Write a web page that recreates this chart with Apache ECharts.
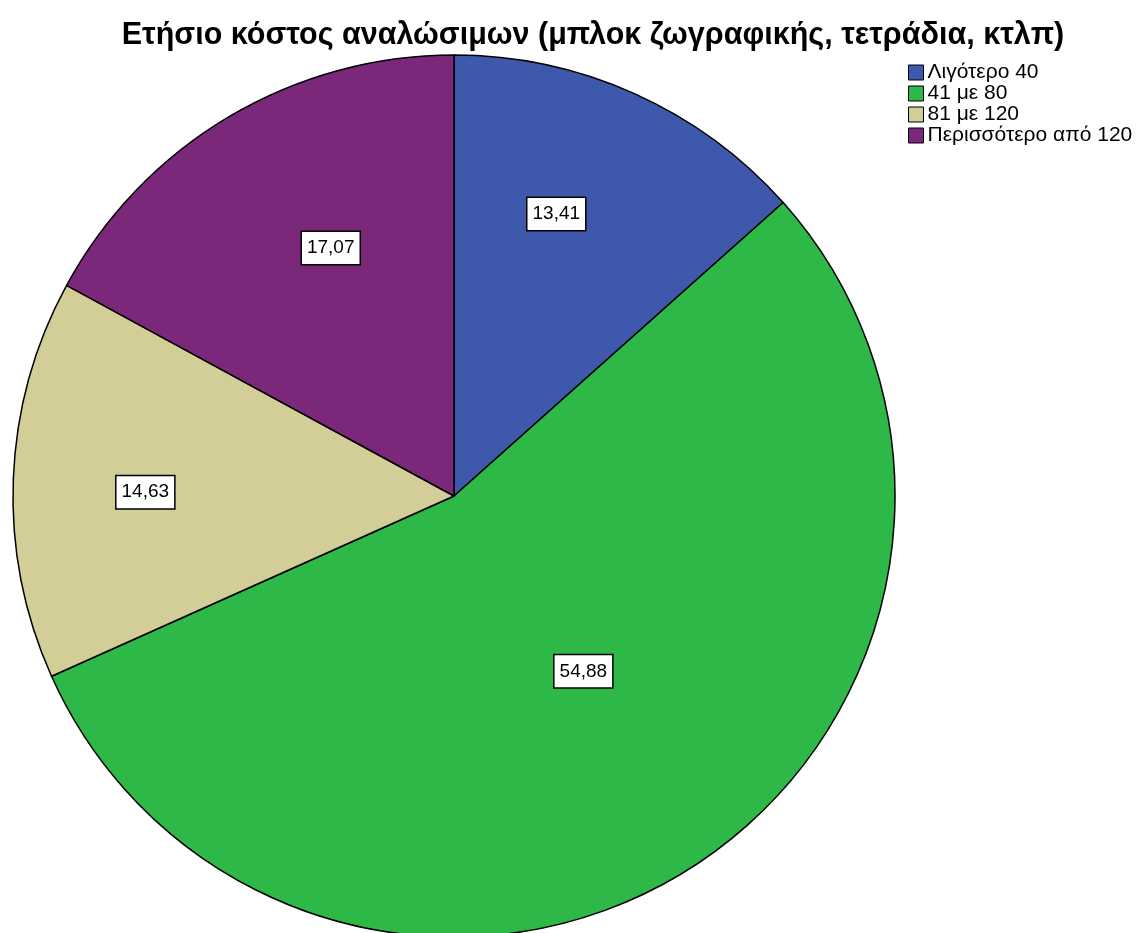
<!DOCTYPE html>
<html>
<head>
<meta charset="utf-8">
<script src="https://cdn.jsdelivr.net/npm/echarts@6/dist/echarts.min.js"></script>
<style>html,body{margin:0;padding:0;background:#fff;}#chart{width:1136px;height:933px;}</style>
</head>
<body>
<div id="chart"></div>
<script>
const titleText = 'Ετήσιο κόστος αναλώσιμων (μπλοκ ζωγραφικής, τετράδια, κτλπ)';
const categories = ['Λιγότερο 40', '41 με 80', '81 με 120', 'Περισσότερο από 120'];
const values = [13.41, 54.88, 14.63, 17.07];
const colors = ['#3E58AC', '#2EB848', '#D3CE97', '#7B287B'];
// label placement style: radial fraction and angular shift (deg) from slice middle
const labelRadiusFrac = [0.68, 0.494, 0.70, 0.628];
const labelAngleShift = [-4.2, -3.5, -1.5, 4.3];

const CX = 454, CY = 496, R = 441;
const total = values.reduce((a, b) => a + b, 0);
const midAngles = [];
let cum = 0;
values.forEach(v => { midAngles.push((cum + v / 2) / total * Math.PI * 2); cum += v; });

const chart = echarts.init(document.getElementById('chart'), null, {renderer: 'canvas'});
chart.setOption({
  animation: false,
  backgroundColor: '#fff',
  title: {
    text: titleText,
    left: 588, top: 15, textAlign: 'center',
    textStyle: {fontFamily: 'Liberation Sans', fontWeight: 'bold', fontSize: 30.5, color: '#000'}
  },
  legend: {
    orient: 'vertical', left: 903, top: 57,
    icon: 'rect', itemWidth: 15, itemHeight: 15, itemGap: 0,
    itemStyle: {borderColor: '#000', borderWidth: 1},
    textStyle: {fontFamily: 'Liberation Sans', fontSize: 21, lineHeight: 21, color: '#000', padding: [0, 0, 0, -1]},
    data: categories
  },
  series: [{
    type: 'pie',
    center: [CX, CY], radius: R,
    startAngle: 90, clockwise: true,
    color: colors,
    itemStyle: {borderColor: '#000', borderWidth: 1.5},
    label: {
      show: true, position: 'inside',
      formatter: p => p.value.toFixed(2).replace('.', ','),
      fontFamily: 'Liberation Sans', fontSize: 19, color: '#000',
      backgroundColor: '#fff', borderColor: '#000', borderWidth: 1.5,
      padding: [7, 5, 6, 5]
    },
    labelLayout: function (params) {
      const i = params.dataIndex;
      const a = midAngles[i] + labelAngleShift[i] * Math.PI / 180;
      const f = labelRadiusFrac[i];
      return {
        x: CX + f * R * Math.sin(a),
        y: CY - f * R * Math.cos(a),
        align: 'center', verticalAlign: 'middle'
      };
    },
    emphasis: {disabled: true},
    data: categories.map((c, i) => ({name: c, value: values[i]}))
  }]
});
</script>
</body>
</html>
